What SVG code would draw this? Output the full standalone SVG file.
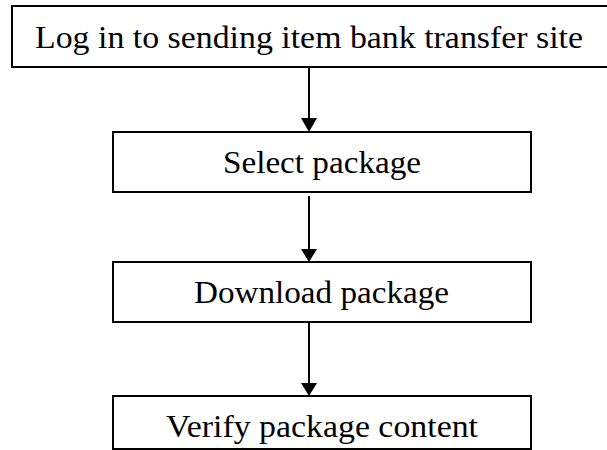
<svg xmlns="http://www.w3.org/2000/svg" width="607" height="450" viewBox="0 0 607 450">
<style>
.box{fill:#fff;stroke:#000;stroke-width:2}
.t{font-family:"Liberation Serif","DejaVu Serif",serif;font-size:32px;fill:#000;text-anchor:middle}
.c{stroke:#000;stroke-width:2;fill:none}
.h{fill:#000}
</style>
<g id="n1"><rect class="box" x="12" y="6" width="600" height="61"/><text class="t" x="309" y="47.5" textLength="548" lengthAdjust="spacingAndGlyphs">Log in to sending item bank transfer site</text></g>
<g id="n2"><rect class="box" x="113" y="132" width="418" height="60"/><text class="t" x="322" y="173" textLength="198" lengthAdjust="spacingAndGlyphs">Select package</text></g>
<g id="n3"><rect class="box" x="113" y="262" width="418" height="60"/><text class="t" x="321.5" y="303" textLength="255" lengthAdjust="spacingAndGlyphs">Download package</text></g>
<g id="n4"><rect class="box" x="113" y="396" width="418" height="53"/><text class="t" x="322" y="437" textLength="312" lengthAdjust="spacingAndGlyphs">Verify package content</text></g>
<g id="connectors">
<line class="c" x1="309" y1="67" x2="309" y2="120"/><polygon class="h" points="301,118 317,118 309,132"/>
<line class="c" x1="309" y1="196" x2="309" y2="252"/><polygon class="h" points="301,249 317,249 309,262"/>
<line class="c" x1="309" y1="322" x2="309" y2="386"/><polygon class="h" points="301,383 317,383 309,396"/>
</g>
</svg>
